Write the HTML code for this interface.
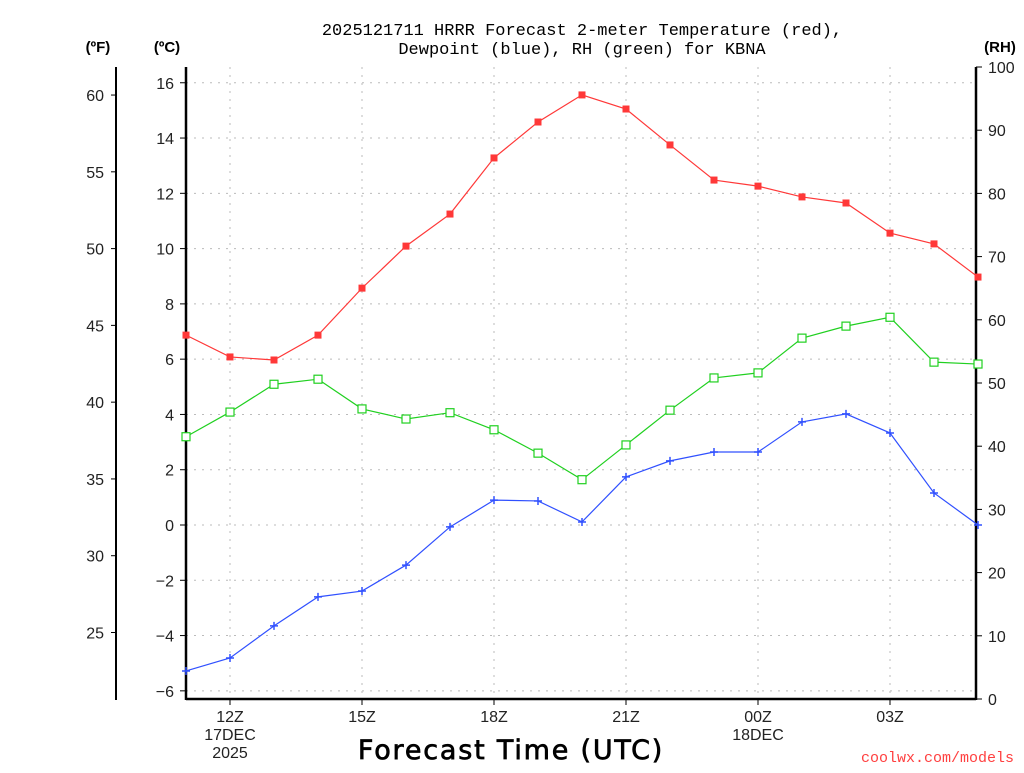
<!DOCTYPE html>
<html><head><meta charset="utf-8"><style>
body{margin:0;background:#fff;}
svg text{font-family:"Liberation Sans",sans-serif;}
</style></head><body>
<svg id="c" width="1024" height="768" xmlns="http://www.w3.org/2000/svg">
<text x="582" y="35" text-anchor="middle" font-size="17" style="font-family:'Liberation Mono',monospace">2025121711 HRRR Forecast 2-meter Temperature (red),</text>
<text x="582" y="54" text-anchor="middle" font-size="17" style="font-family:'Liberation Mono',monospace">Dewpoint (blue), RH (green) for KBNA</text>
<text x="98" y="52" text-anchor="middle" font-size="15" font-weight="bold">(ºF)</text>
<text x="167" y="52" text-anchor="middle" font-size="15" font-weight="bold">(ºC)</text>
<text x="1000" y="52" text-anchor="middle" font-size="15" font-weight="bold">(RH)</text>
<text x="511" y="759" text-anchor="middle" font-size="27" letter-spacing="1.8" stroke="#000" stroke-width="0.7" style="font-family:'DejaVu Sans',sans-serif">Forecast Time (UTC)</text>
<text x="1014" y="762" text-anchor="end" font-size="15" fill="#ff4040" style="font-family:'Liberation Mono',monospace">coolwx.com/models</text>
<g id="grid"></g><g id="axes"></g><g id="series"></g>
</svg>
<script>
const hours=[11,12,13,14,15,16,17,18,19,20,21,22,23,24,25,26,27,28,29];
const tempC=[6.87,6.08,5.97,6.87,8.57,10.09,11.25,13.28,14.58,15.56,15.05,13.75,12.48,12.26,11.87,11.65,10.56,10.17,8.97];
const dewC=[-5.28,-4.81,-3.65,-2.60,-2.39,-1.45,-0.07,0.90,0.87,0.11,1.74,2.32,2.64,2.64,3.73,4.02,3.33,1.16,0.0];
const rh=[41.5,45.4,49.8,50.6,45.9,44.3,45.3,42.6,38.9,34.7,40.2,45.7,50.8,51.6,57.1,59.0,60.4,53.3,53.0];
const cTicks=[-6,-4,-2,0,2,4,6,8,10,12,14,16];
const fTicks=[25,30,35,40,45,50,55,60];
const rhTicks=[0,10,20,30,40,50,60,70,80,90,100];
const xTickHours=[12,15,18,21,24,27];
const xTickLabels=["12Z","15Z","18Z","21Z","00Z","03Z"];
const X0=186,X1=976,Y0=67,Y1=699;
const xs=h=>X0+(h-11)*44;
const yc=c=>525-c*27.64;
const yf=f=>yc((f-32)*5/9);
const yr=r=>Y1-r*(Y1-Y0)/100;
const NS="http://www.w3.org/2000/svg";
function mk(par,tag,at){const e=document.createElementNS(NS,tag);for(const k in at)e.setAttribute(k,at[k]);document.getElementById(par).appendChild(e);return e;}
cTicks.forEach(c=>{const y=yc(c);
 const g=mk('grid','line',{x1:X0,x2:X1,y1:y,y2:y,stroke:'#bbb','stroke-dasharray':'2,6'});
 
 
 mk('axes','line',{x1:X0-6,x2:X0,y1:y,y2:y,stroke:'#000'});
 const t=mk('axes','text',{x:X0-12,y:y+6,'text-anchor':'end','font-size':16,fill:'#222'});t.textContent=c<0?'\u2212'+(-c):c;
 
 });
fTicks.forEach(f=>{const y=yf(f);
 mk('axes','line',{x1:111,x2:116,y1:y,y2:y,stroke:'#000'});
 const t=mk('axes','text',{x:104,y:y+6,'text-anchor':'end','font-size':16,fill:'#222'});t.textContent=f;
 
 });
rhTicks.forEach(r=>{const y=yr(r);
 mk('axes','line',{x1:X1,x2:X1+6,y1:y,y2:y,stroke:'#000'});
 const t=mk('axes','text',{x:988,y:y+6,'font-size':16,fill:'#222'});t.textContent=r;
 
 });
xTickHours.forEach((h,i)=>{const x=xs(h);
 const g=mk('grid','line',{x1:x,x2:x,y1:Y0,y2:Y1,stroke:'#bbb','stroke-dasharray':'2,6'});
 
 
 mk('axes','line',{x1:x,x2:x,y1:Y1,y2:Y1+6,stroke:'#000'});
 const t=mk('axes','text',{x:x,y:722,'text-anchor':'middle','font-size':16,fill:'#222'});t.textContent=xTickLabels[i];
 
 });
[["17DEC",12,740],["2025",12,758],["18DEC",24,740]].forEach(d=>{const t=mk('axes','text',{x:xs(d[1]),y:d[2],'text-anchor':'middle','font-size':16,fill:'#222'});t.textContent=d[0];
 
 });
mk('axes','line',{x1:X0,x2:X0,y1:Y0,y2:Y1+1,stroke:'#000','stroke-width':2.5});
mk('axes','line',{x1:X0,x2:X1,y1:Y1,y2:Y1,stroke:'#000','stroke-width':2.5});
mk('axes','line',{x1:X1,x2:X1,y1:Y0,y2:Y1+1,stroke:'#000','stroke-width':2.5});
mk('axes','line',{x1:116,x2:116,y1:Y0,y2:Y1+1,stroke:'#000','stroke-width':2});
function series(vals,yfn,color,marker,name){
 const pts=vals.map((v,i)=>[xs(hours[i]),yfn(v)]);
 const p=mk('series','polyline',{points:pts.map(p=>p.join(',')).join(' '),fill:'none',stroke:color,'stroke-width':1.2});
 
 
 pts.forEach(([x,y])=>{let m;
  if(marker==='sq')m=mk('series','rect',{x:x-3.5,y:y-3.5,width:7,height:7,fill:color});
  else if(marker==='osq')m=mk('series','rect',{x:x-4,y:y-4,width:8,height:8,fill:'#fff',stroke:color,'stroke-width':1.2});
  else m=mk('series','path',{d:`M${x-4},${y}H${x+4}M${x},${y-4}V${y+4}`,stroke:color,'stroke-width':1.5});
  
  });}
series(tempC,yc,'#ff3838','sq','temperature');
series(rh,yr,'#20d020','osq','rh');
series(dewC,yc,'#3050ff','plus','dewpoint');
</script>
</body></html>
